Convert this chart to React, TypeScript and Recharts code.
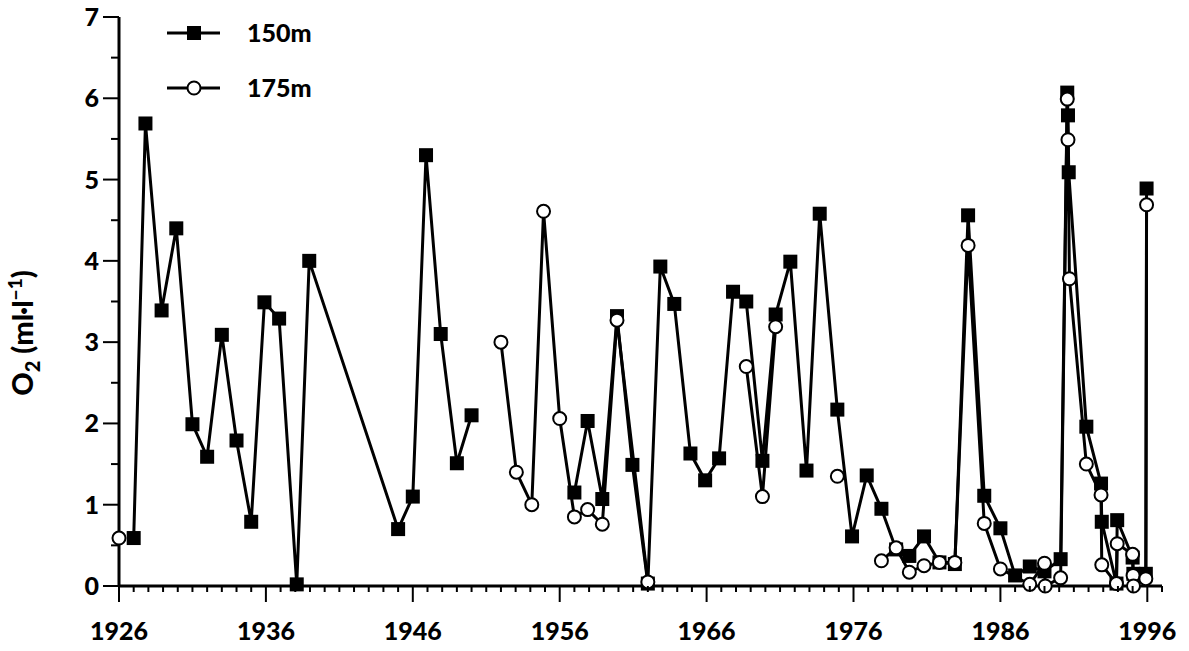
import React from 'react';
import { LineChart, Line, XAxis, YAxis } from 'recharts';

// O2 at 150 m (filled squares); null = gap in the record
const years150 = [
  1927, 1927.8, 1928.9, 1929.9, 1931, 1932, 1933, 1934, 1935, 1935.9,
  1936.9, 1938.1, 1938.95, 1945, 1946, 1946.9, 1947.9, 1949, 1950, 1951,
  1957, 1957.9, 1958.9, 1959.9, 1960.95, 1962, 1962.85, 1963.8, 1964.9, 1965.9,
  1966.85, 1967.8, 1968.7, 1969.8, 1970.7, 1971.7, 1972.8, 1973.7, 1974.9, 1975.9,
  1976.9, 1977.9, 1978.9, 1979.8, 1980.8, 1981.85, 1982.9, 1983.8, 1984.9, 1986,
  1987, 1988, 1989, 1990.1, 1990.55, 1990.6, 1990.65, 1991.85, 1992.85, 1992.9,
  1993.9, 1993.95, 1995, 1995.05, 1995.9, 1995.95,
];
const o2At150 = [
  0.59, 5.69, 3.39, 4.4, 1.99, 1.59, 3.09, 1.79, 0.79, 3.49,
  3.29, 0.02, 4.0, 0.7, 1.1, 5.3, 3.1, 1.51, 2.1, null,
  1.15, 2.03, 1.07, 3.32, 1.49, 0.03, 3.93, 3.47, 1.63, 1.3,
  1.57, 3.62, 3.5, 1.54, 3.34, 3.99, 1.42, 4.58, 2.17, 0.61,
  1.36, 0.95, 0.45, 0.37, 0.61, 0.29, 0.27, 4.56, 1.11, 0.71,
  0.13, 0.24, 0.18, 0.33, 6.07, 5.79, 5.09, 1.96, 1.26, 0.79,
  0.03, 0.81, 0.35, 0.15, 0.15, 4.89,
];

// O2 at 175 m (open circles)
const years175 = [
  1926, 1927, 1952, 1953.05, 1954.1, 1954.9, 1956, 1957, 1957.9, 1958.9,
  1959.9, 1962, 1963, 1968.7, 1969.8, 1970.7, 1971, 1974.9, 1975, 1977.9,
  1978.9, 1979.8, 1980.8, 1981.85, 1982.9, 1983.8, 1984.9, 1986, 1988, 1989,
  1989.05, 1990.1, 1990.55, 1990.6, 1990.7, 1991.85, 1992.85, 1992.9, 1993.9, 1993.95,
  1995, 1995.03, 1995.06, 1995.9, 1995.95,
];
const o2At175 = [
  0.59, null, 3.0, 1.4, 1.0, 4.61, 2.06, 0.85, 0.94, 0.76,
  3.27, 0.05, null, 2.7, 1.1, 3.19, null, 1.35, null, 0.31,
  0.47, 0.17, 0.25, 0.29, 0.29, 4.19, 0.77, 0.21, 0.02, 0.28,
  0.0, 0.1, 5.99, 5.49, 3.78, 1.5, 1.12, 0.26, 0.03, 0.52,
  0.39, 0.13, 0.0, 0.09, 4.69,
];

const decadeLabels = [1926, 1936, 1946, 1956, 1966, 1976, 1986, 1996];
const yLabels = [0, 1, 2, 3, 4, 5, 6, 7];

const series150 = years150.map((year, i) => ({ year, o2: o2At150[i] }));
const series175 = years175.map((year, i) => ({ year, o2: o2At175[i] }));

const yearTicks = Array.from({ length: 72 }, (_, i) => 1926 + i);
const halfTicks = Array.from({ length: 15 }, (_, i) => i * 0.5);

const FONT = 'Lato, "Open Sans", sans-serif';

const XTick = (props: any) => {
  const { x, y, payload } = props;
  const major = decadeLabels.includes(payload.value);
  return (
    <g>
      <line x1={x} y1={y} x2={x} y2={y + (major ? 16 : 6)} stroke="#000" strokeWidth={2} />
      {major && (
        <text x={x} y={y + 54} textAnchor="middle" fontFamily={FONT} fontWeight={900} fontSize={25} fill="#000">
          {payload.value}
        </text>
      )}
    </g>
  );
};

const YTick = (props: any) => {
  const { x, y, payload } = props;
  const major = yLabels.includes(payload.value);
  return (
    <g>
      <line x1={x - (major ? 16 : 8)} y1={y} x2={x} y2={y} stroke="#000" strokeWidth={2} />
      {major && (
        <text x={x - 20} y={y} dy={9} textAnchor="end" fontFamily={FONT} fontWeight={900} fontSize={25} fill="#000">
          {payload.value}
        </text>
      )}
    </g>
  );
};

const SquareDot = (props: any) => {
  const { cx, cy, value, index } = props;
  if (value == null || cx == null || cy == null) return <g key={index} />;
  return <rect key={index} x={cx - 7} y={cy - 7} width={14} height={14} fill="#000" />;
};

const CircleDot = (props: any) => {
  const { cx, cy, value, index } = props;
  if (value == null || cx == null || cy == null) return <g key={index} />;
  return <circle key={index} cx={cx} cy={cy} r={6.5} fill="#fff" stroke="#000" strokeWidth={2} />;
};

export default function App() {
  return (
    <div style={{ position: 'absolute', left: 0, top: 0, width: 1189, height: 651, background: '#fff' }}>
      <LineChart width={1189} height={651} margin={{ top: 17, right: 27, left: 0, bottom: 0 }}>
        <XAxis
          type="number"
          dataKey="year"
          domain={[1926, 1997]}
          ticks={yearTicks}
          interval={0}
          height={65}
          tickSize={0}
          tickMargin={0}
          tick={<XTick />}
          axisLine={{ stroke: '#000', strokeWidth: 3 }}
        />
        <YAxis
          type="number"
          domain={[0, 7]}
          ticks={halfTicks}
          interval={0}
          width={119}
          tickSize={0}
          tickMargin={0}
          tick={<YTick />}
          axisLine={{ stroke: '#000', strokeWidth: 3 }}
        />
        <Line
          data={series150}
          dataKey="o2"
          type="linear"
          stroke="#000"
          strokeWidth={3}
          dot={SquareDot}
          activeDot={false}
          isAnimationActive={false}
        />
        <Line
          data={series175}
          dataKey="o2"
          type="linear"
          stroke="#000"
          strokeWidth={3}
          dot={CircleDot}
          activeDot={false}
          isAnimationActive={false}
        />
      </LineChart>
      <svg width={1189} height={651} style={{ position: 'absolute', left: 0, top: 0, pointerEvents: 'none' }}>
        <text
          x={33}
          y={333}
          transform="rotate(-90, 33, 333)"
          textAnchor="middle"
          fontFamily={FONT}
          fontWeight={900}
          fontSize={29}
          fill="#000"
        >
          <tspan>O</tspan>
          <tspan dy={7} fontSize={20}>2</tspan>
          <tspan dy={-7}> (ml·l</tspan>
          <tspan dy={-11} fontSize={19}>−1</tspan>
          <tspan dy={11}>)</tspan>
        </text>
        <line x1={167} y1={33} x2={220} y2={33} stroke="#000" strokeWidth={3} />
        <rect x={187} y={26} width={14} height={14} fill="#000" />
        <text x={247} y={42} fontFamily={FONT} fontWeight={900} fontSize={25} fill="#000">150m</text>
        <line x1={167} y1={88} x2={220} y2={88} stroke="#000" strokeWidth={3} />
        <circle cx={194} cy={88} r={6.5} fill="#fff" stroke="#000" strokeWidth={2} />
        <text x={247} y={97} fontFamily={FONT} fontWeight={900} fontSize={25} fill="#000">175m</text>
      </svg>
    </div>
  );
}
